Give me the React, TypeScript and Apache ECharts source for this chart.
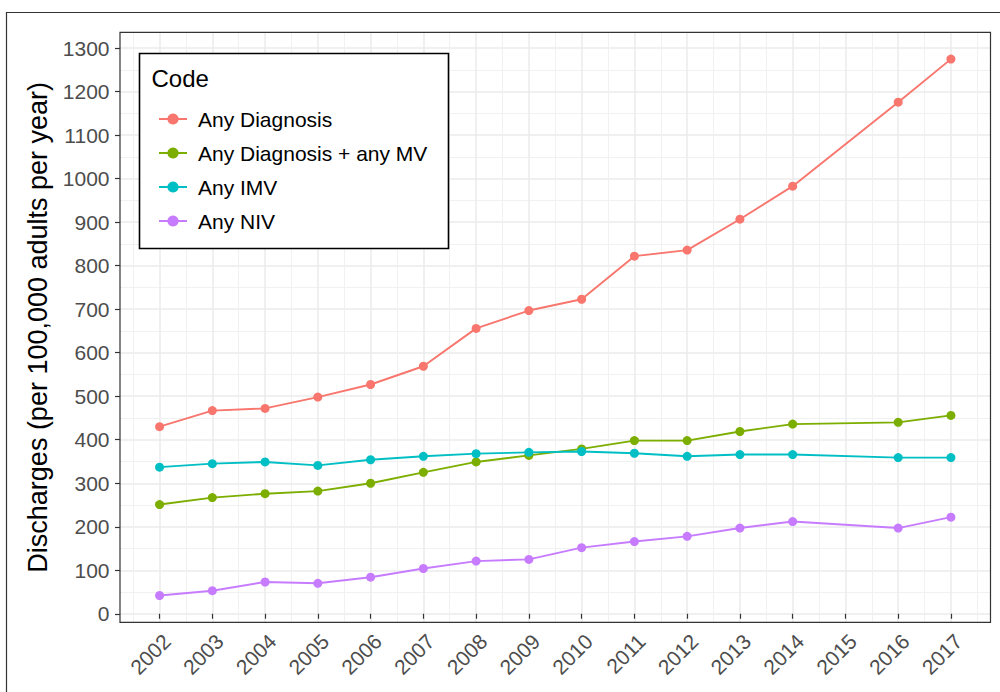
import React, { useEffect, useRef } from "react";
import * as echarts from "echarts";

const years = [2002, 2003, 2004, 2005, 2006, 2007, 2008, 2009, 2010, 2011, 2012, 2013, 2014, 2015, 2016, 2017];
const minorYears = [2001.5, 2002.5, 2003.5, 2004.5, 2005.5, 2006.5, 2007.5, 2008.5, 2009.5, 2010.5, 2011.5, 2012.5, 2013.5, 2014.5, 2015.5, 2016.5, 2017.5];
const yTicks = [0, 100, 200, 300, 400, 500, 600, 700, 800, 900, 1000, 1100, 1200, 1300];
const yMinorTicks = [50, 150, 250, 350, 450, 550, 650, 750, 850, 950, 1050, 1150, 1250];

const seriesNames = ["Any Diagnosis", "Any Diagnosis + any MV", "Any IMV", "Any NIV"];
const seriesColors = ["#F8766D", "#7CAE00", "#00BFC4", "#C77CFF"];

// 2015 has no observation (null)
const anyDiagnosis = [430, 467, 472, 498, 527, 569, 656, 697, 723, 822, 836, 907, 983, null, 1176, 1275];
const anyDiagnosisMV = [251, 267, 276, 282, 300, 325, 349, 364, 379, 398, 398, 419, 436, null, 440, 456];
const anyIMV = [337, 345, 349, 341, 354, 362, 368, 371, 373, 369, 362, 366, 366, null, 359, 359];
const anyNIV = [42, 53, 73, 70, 84, 104, 121, 125, 152, 166, 178, 197, 212, null, 197, 222];

const seriesValues = [anyDiagnosis, anyDiagnosisMV, anyIMV, anyNIV];

const xMin = 2001.25;
const xMax = 2017.75;
const yMin = -19.65;
const yMax = 1336.65;

export default function App() {
  const ref = useRef<HTMLDivElement>(null);

  useEffect(() => {
    if (!ref.current) return;
    const chart = echarts.init(ref.current, null, { renderer: "svg" });

    const series = seriesNames.map((name, i) => ({
      name,
      type: "line",
      xAxisIndex: 0,
      yAxisIndex: 0,
      data: years
        .map((y, j) => [y, seriesValues[i][j]])
        .filter((p) => p[1] !== null),
      symbol: "circle",
      symbolSize: 9,
      showSymbol: true,
      itemStyle: { color: seriesColors[i] },
      lineStyle: { color: seriesColors[i], width: 1.9 },
      emphasis: { disabled: true },
      z: 3,
    }));

    const option: any = {
      animation: false,
      backgroundColor: "#ffffff",
      textStyle: { fontFamily: "Liberation Sans, Arial, sans-serif" },
      grid: {
        left: 120,
        right: 9.5,
        top: 32.3,
        bottom: 69.7,
        show: true,
        borderColor: "#333333",
        borderWidth: 1.2,
        backgroundColor: "transparent",
        z: 4,
      },
      xAxis: [
        {
          type: "value",
          min: xMin,
          max: xMax,
          axisLine: { show: false },
          axisTick: { show: true, customValues: years, length: 5, lineStyle: { color: "#333333", width: 1.2 } },
          axisLabel: {
            customValues: years,
            rotate: 45,
            margin: 8,
            verticalAlign: "top",
            fontSize: 21,
            color: "#4D4D4D",
            fontFamily: "Liberation Sans, Arial, sans-serif",
            formatter: (v: number) => String(v),
          },
          splitLine: { show: true, lineStyle: { color: "#EBEBEB", width: 1.5 } },
        },
        {
          type: "value",
          min: xMin,
          max: xMax,
          position: "bottom",
          axisLine: { show: false },
          axisTick: { show: false, customValues: minorYears },
          axisLabel: { show: false, customValues: minorYears },
          splitLine: { show: true, lineStyle: { color: "#EFEFEF", width: 0.9 } },
        },
      ],
      yAxis: [
        {
          type: "value",
          min: yMin,
          max: yMax,
          name: "Discharges (per 100,000 adults per year)",
          nameLocation: "middle",
          nameRotate: 90,
          nameGap: 59,
          nameTextStyle: { fontSize: 27, color: "#000000", fontFamily: "Liberation Sans, Arial, sans-serif" },
          axisLine: { show: false },
          axisTick: { show: true, customValues: yTicks, length: 5, lineStyle: { color: "#333333", width: 1.2 } },
          axisLabel: {
            customValues: yTicks,
            margin: 10.5,
            fontSize: 21,
            color: "#4D4D4D",
            fontFamily: "Liberation Sans, Arial, sans-serif",
            formatter: (v: number) => String(v),
          },
          splitLine: { show: true, lineStyle: { color: "#EBEBEB", width: 1.5 } },
        },
        {
          type: "value",
          min: yMin,
          max: yMax,
          position: "left",
          axisLine: { show: false },
          axisTick: { show: false, customValues: yMinorTicks },
          axisLabel: { show: false, customValues: yMinorTicks },
          splitLine: { show: true, lineStyle: { color: "#EFEFEF", width: 0.9 } },
        },
      ],
      legend: {
        orient: "vertical",
        left: 153,
        top: 102,
        itemWidth: 28,
        itemHeight: 14,
        itemGap: 10,
        data: seriesNames,
        selectedMode: false,
        textStyle: {
          fontSize: 21,
          lineHeight: 24,
          color: "#000000",
          padding: [0, 0, 0, 6],
          fontFamily: "Liberation Sans, Arial, sans-serif",
        },
        z: 10,
      },
      graphic: [
        {
          type: "rect",
          shape: { x: 6.5, y: 12.5, width: 1100, height: 800 },
          style: { fill: "none", stroke: "#333333", lineWidth: 1.2 },
          z: 0,
          silent: true,
        },
        {
          type: "rect",
          shape: { x: 139.5, y: 53.5, width: 309, height: 195 },
          style: { fill: "#ffffff", stroke: "#000000", lineWidth: 1.6 },
          z: 9,
          silent: true,
        },
        {
          type: "text",
          x: 151.5,
          y: 78,
          style: {
            text: "Code",
            fontSize: 24,
            fill: "#000000",
            fontFamily: "Liberation Sans, Arial, sans-serif",
            verticalAlign: "middle",
            align: "left",
          },
          z: 10,
          silent: true,
        },
      ],
      series,
    };

    chart.setOption(option);
    return () => {
      chart.dispose();
    };
  }, []);

  return (
    <div
      ref={ref}
      style={{ position: "fixed", left: 0, top: 0, width: 1000, height: 692, background: "#fff" }}
    />
  );
}
